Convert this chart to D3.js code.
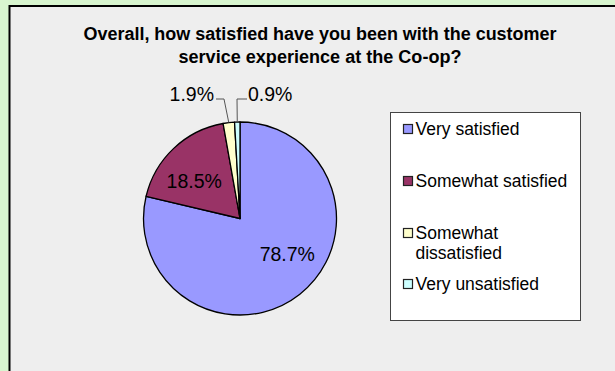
<!DOCTYPE html>
<html>
<head>
<meta charset="utf-8">
<script src="https://cdn.jsdelivr.net/npm/d3@7"></script>
<style>
  html, body { margin: 0; padding: 0; background: #d8f5cf; }
  svg { display: block; }
</style>
</head>
<body>
<svg id="chart" width="615" height="371"></svg>
<script>
// Survey responses: customer service satisfaction
const categories = ["Very satisfied", "Somewhat satisfied", "Somewhat dissatisfied", "Very unsatisfied"];
const legendLines = [["Very satisfied"], ["Somewhat satisfied"], ["Somewhat", "dissatisfied"], ["Very unsatisfied"]];
const values = [78.7, 18.5, 1.9, 0.9];
const colors = ["#9999ff", "#993366", "#ffffcc", "#ccffff"];
const titleLines = ["Overall, how satisfied have you been with the customer", "service experience at the Co-op?"];

const svg = d3.select("#chart");
const W = 615, H = 371;

// page background and chart panel
svg.append("rect").attr("width", W).attr("height", H).attr("fill", "#d8f5cf");
svg.append("rect")
  .attr("x", 9.5).attr("y", 6).attr("width", W + 10).attr("height", H + 10)
  .attr("fill", "#eeeeee").attr("stroke", "#000").attr("stroke-width", 2);

// title (condensed bold)
const titleWidths = [473, 283];
svg.append("g").selectAll("text").data(titleLines).join("text")
  .attr("x", 320).attr("y", (d, i) => 39.5 + i * 23)
  .attr("text-anchor", "middle")
  .attr("font-family", "Liberation Sans, Arial, sans-serif")
  .attr("font-weight", "bold").attr("font-size", 18)
  .attr("textLength", (d, i) => titleWidths[i])
  .attr("lengthAdjust", "spacingAndGlyphs")
  .attr("fill", "#000")
  .text(d => d);

// pie
const cx = 240, cy = 218.5, r = 96.5;
const pie = d3.pie().sort(null).value(d => d.v).startAngle(0).endAngle(2 * Math.PI);
const data = pie(values.map((v, i) => ({ v, i })));
const arc = d3.arc().innerRadius(0).outerRadius(r);
const g = svg.append("g").attr("transform", `translate(${cx},${cy})`);

g.selectAll("path").data(data).join("path")
  .attr("d", arc)
  .attr("fill", d => colors[d.data.i])
  .attr("stroke", "#000").attr("stroke-width", 1.3).attr("stroke-linejoin", "round");

const fmt = v => v.toFixed(1) + "%";
const labelFont = "Liberation Sans, Arial, sans-serif";
const labelSize = 19.5;

// labels inside the two large slices, placed along each slice's bisector
// and turned slightly counter-clockwise
const labelRadius = 59;
const labelTurn = [-0.26, -0.13];
g.selectAll("text.inside").data(data.slice(0, 2)).join("text")
  .attr("class", "inside")
  .attr("transform", (d, i) => {
    const a = (d.startAngle + d.endAngle) / 2 + labelTurn[i];
    const x = labelRadius * Math.sin(a), y = -labelRadius * Math.cos(a);
    return `translate(${x},${y})`;
  })
  .attr("text-anchor", "middle").attr("dy", "0.35em")
  .attr("font-family", labelFont).attr("font-size", labelSize)
  .attr("fill", "#000")
  .text(d => fmt(d.data.v));

// outside labels with leader lines for the two thin slices
const outer = d3.arc().innerRadius(r).outerRadius(r);
const smalls = [
  { d: data[2], elbowX: -16, endX: -24, anchor: "end", tx: -26 },
  { d: data[3], elbowX: -3, endX: 7, anchor: "start", tx: 8 }
];
const leaderY = 99 - cy;
smalls.forEach(s => {
  const [px, py] = outer.centroid(s.d);
  g.append("polyline")
    .attr("points", `${px},${py} ${s.elbowX},${leaderY} ${s.endX},${leaderY}`)
    .attr("fill", "none").attr("stroke", "#555").attr("stroke-width", 1);
  g.append("text")
    .attr("x", s.tx).attr("y", leaderY).attr("dy", "0.1em")
    .attr("text-anchor", s.anchor)
    .attr("font-family", labelFont).attr("font-size", labelSize)
    .attr("fill", "#000")
    .text(fmt(s.d.data.v));
});

// legend
svg.append("rect")
  .attr("x", 390.5).attr("y", 112.5).attr("width", 190).attr("height", 208)
  .attr("fill", "#fff").attr("stroke", "#444").attr("stroke-width", 1);

const rowY = [129, 181, 233, 284];
const lg = svg.append("g");
categories.forEach((c, i) => {
  lg.append("rect")
    .attr("x", 403.5).attr("y", rowY[i] - 4.5).attr("width", 9).attr("height", 9)
    .attr("fill", colors[i]).attr("stroke", "#222").attr("stroke-width", 1.2);
  legendLines[i].forEach((line, j) => {
    lg.append("text")
      .attr("x", 415.5).attr("y", rowY[i] + j * 20).attr("dy", "0.35em")
      .attr("font-family", labelFont).attr("font-size", 17.5)
      .attr("fill", "#000")
      .text(line);
  });
});
</script>
</body>
</html>
